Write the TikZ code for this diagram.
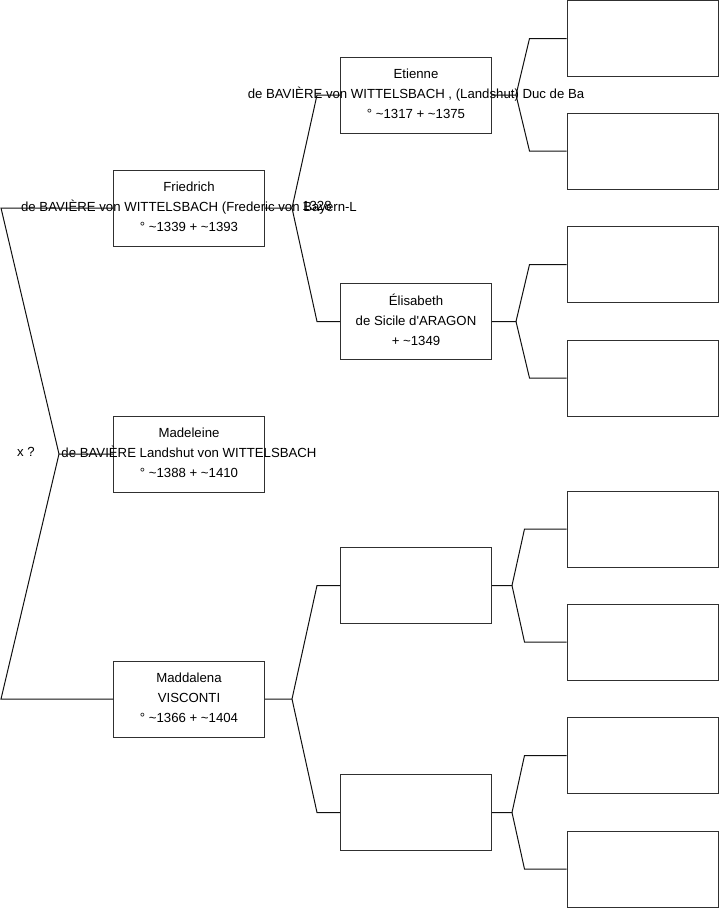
\documentclass[tikz,border=0pt]{standalone}
\usepackage{fontspec}
\setmainfont{Liberation Sans}
\usetikzlibrary{positioning}
\definecolor{boxline}{HTML}{303030}
\definecolor{linkc}{HTML}{101010}
\tikzset{
  pbox/.style={rectangle, draw=boxline, line width=1pt, minimum width=151pt, minimum height=76pt, inner sep=0pt},
  ptxt/.style={align=center, inner sep=0pt, font=\fontsize{13.2pt}{19.8pt}\selectfont},
  link/.style={draw=linkc, line width=1pt},
}
\newcommand{\ca}{\textasciitilde}

\begin{document}
\begin{tikzpicture}[x=1pt,y=-1pt]
\useasboundingbox (0,0) rectangle (719,908);

% persons
\node[pbox] (madel) at (189,454) {};
\node[pbox] (fried) at (189,208) {};
\node[pbox] (madda) at (189,699) {};
\node[pbox] (etien) at (416,95) {};
\node[pbox] (elisa) at (416,321.5) {};
\node[pbox] (mgfa) at (416,585.5) {};
\node[pbox] (mgmo) at (416,812.5) {};

% empty ancestors
\node[pbox] (ea) at (642.5,38.5) {};
\node[pbox] (eb) at (642.5,151) {};
\node[pbox] (la) at (642.5,264.5) {};
\node[pbox] (lb) at (642.5,378) {};
\node[pbox] (ma) at (642.5,529) {};
\node[pbox] (mb) at (642.5,642) {};
\node[pbox] (na) at (642.5,755.5) {};
\node[pbox] (nb) at (642.5,869) {};

% texts
\node[ptxt] (madelt) at ([yshift=1.5]madel) {Madeleine\\de BAVIÈRE Landshut von WITTELSBACH\\° \ca1388 + \ca1410};
\node[ptxt] (friedt) at ([yshift=1.5]fried) {Friedrich\\de BAVIÈRE von WITTELSBACH (Frederic von Bayern-L\\° \ca1339 + \ca1393};
\node[ptxt] (yr) at (317,205.5) {1328};
\node[ptxt] (maddat) at ([yshift=1.5]madda) {Maddalena\\VISCONTI\\° \ca1366 + \ca1404};
\node[ptxt] (etient) at ([yshift=1.5]etien) {Etienne\\de BAVIÈRE von WITTELSBACH , (Landshut) Duc de Ba\\° \ca1317 + \ca1375};
\node[ptxt] (elisat) at ([yshift=1.5]elisa) {Élisabeth\\de Sicile d\textquotesingle ARAGON\\+ \ca1349};
\node[ptxt] (xq) at (26,452) {x ?};

% links
\draw[link] (madel.west) -- ++(-54,0) coordinate (f0) -- ([xshift=-112]fried.west) -- (fried.west);
\draw[link] (f0) -- ([xshift=-112]madda.west) -- (madda.west);

\draw[link] (fried.east) -- ++(27,0) coordinate (f1) -- ([xshift=-23]etien.west) -- (etien.west);
\draw[link] (f1) -- ([xshift=-23]elisa.west) -- (elisa.west);
\draw[link] (madda.east) -- ++(27,0) coordinate (f2) -- ([xshift=-23]mgfa.west) -- (mgfa.west);
\draw[link] (f2) -- ([xshift=-23]mgmo.west) -- (mgmo.west);

\draw[link] (etien.east) -- ++(24,0) coordinate (f3) -- ([xshift=-37]ea.west) -- (ea.west);
\draw[link] (f3) -- ([xshift=-37]eb.west) -- (eb.west);
\draw[link] (elisa.east) -- ++(24,0) coordinate (f4) -- ([xshift=-37]la.west) -- (la.west);
\draw[link] (f4) -- ([xshift=-37]lb.west) -- (lb.west);
\draw[link] (mgfa.east) -- ++(20,0) coordinate (f5) -- ([xshift=-42]ma.west) -- (ma.west);
\draw[link] (f5) -- ([xshift=-42]mb.west) -- (mb.west);
\draw[link] (mgmo.east) -- ++(20,0) coordinate (f6) -- ([xshift=-42]na.west) -- (na.west);
\draw[link] (f6) -- ([xshift=-42]nb.west) -- (nb.west);
\end{tikzpicture}
\end{document}
